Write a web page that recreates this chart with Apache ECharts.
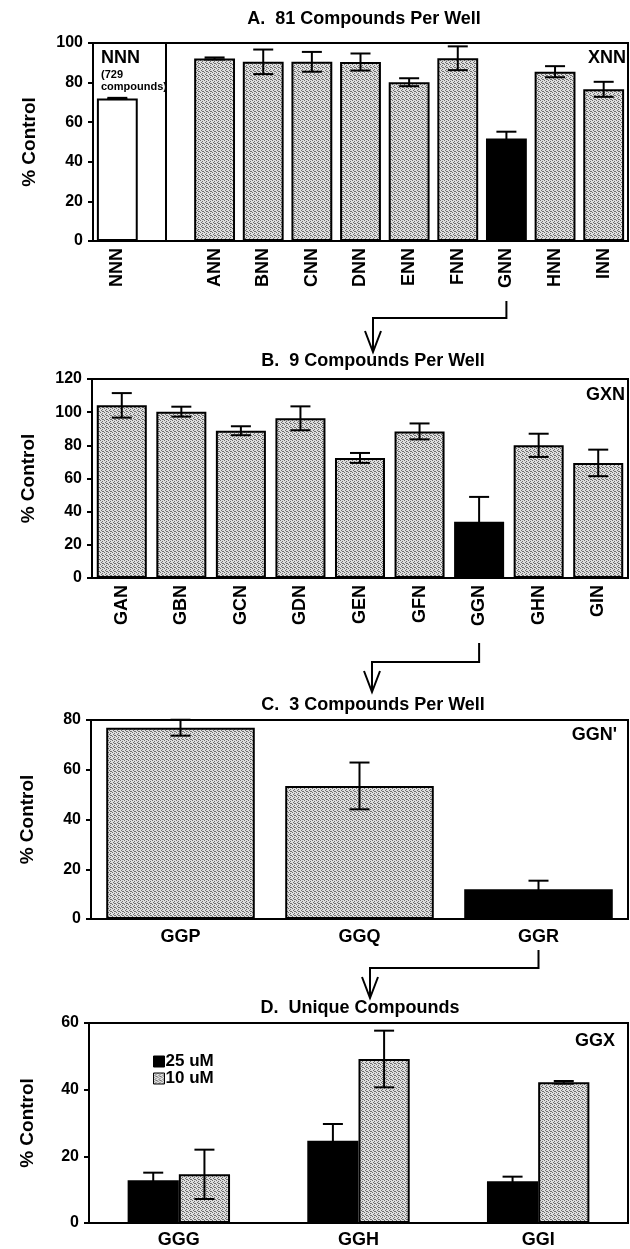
<!DOCTYPE html>
<html>
<head>
<meta charset="utf-8">
<script src="https://cdn.jsdelivr.net/npm/echarts@6/dist/echarts.min.js"></script>
<style>
  html, body { margin: 0; padding: 0; background: #fff; }
  #main { width: 630px; height: 1249px; }
</style>
</head>
<body>
<div id="main"></div>
<script>
// A. 81 compounds per well (second slot is the gap after the NNN pool)
var catA = ['NNN', '', 'ANN', 'BNN', 'CNN', 'DNN', 'ENN', 'FNN', 'GNN', 'HNN', 'INN'];
var valA = [72, null, 92.2, 90.5, 90.5, 90.4, 80.2, 92.3, 51.8, 85.5, 76.6];
var errA = [0.3, null, 0.5, 6.2, 5, 4.3, 2, 6, 3.4, 2.8, 3.8];

// B. 9 compounds per well
var catB = ['GAN', 'GBN', 'GCN', 'GDN', 'GEN', 'GFN', 'GGN', 'GHN', 'GIN'];
var valB = [104.1, 100.3, 88.8, 96.3, 72.4, 88.4, 33.9, 80, 69.4];
var errB = [7.4, 3, 2.7, 7.2, 3, 4.8, 15, 7, 8];

// C. 3 compounds per well
var catC = ['GGP', 'GGQ', 'GGR'];
var valC = [76.9, 53.5, 12];
var errC = [3.2, 9.4, 3.4];

// D. unique compounds, two doses
var catD = ['GGG', 'GGH', 'GGI'];
var val25 = [12.8, 24.7, 12.5];
var err25 = [2.3, 5, 1.4];
var val10 = [14.6, 49.2, 42.2];
var err10 = [7.4, 8.5, 0.4];

var FONT = '"Liberation Sans", Arial, sans-serif';

// stippled grey like the printed halftone
function makePattern() {
  var c = document.createElement('canvas');
  c.width = 4; c.height = 4;
  var g = c.getContext('2d');
  g.fillStyle = '#dedede';
  g.fillRect(0, 0, 4, 4);
  g.fillStyle = '#6e6e6e';
  [[0, 0], [2, 1], [1, 2], [3, 3], [2, 3]].forEach(function (p) { g.fillRect(p[0], p[1], 1, 1); });
  return c;
}
var grey = { image: makePattern(), repeat: 'repeat' };

function barData(cats, vals, white, black) {
  return vals.map(function (v, i) {
    if (v == null) return '-';
    var col = grey;
    if (cats[i] === white) col = '#fff';
    if (cats[i] === black) col = '#000';
    return { value: v, itemStyle: { color: col } };
  });
}

function errData(vals, errs) {
  var out = [];
  vals.forEach(function (v, i) {
    if (v != null) out.push([i, v, errs[i]]);
  });
  return out;
}

function errRender(shift) {
  return function (params, api) {
    var i = api.value(0), v = api.value(1), e = api.value(2);
    var band = api.size([1, 0])[0];
    var x = api.coord([i, v])[0] + shift * band;
    var top = api.coord([i, v + e])[1];
    var bot = api.coord([i, v - e])[1];
    var cap = 10;
    var st = { stroke: '#000', lineWidth: 2 };
    return {
      type: 'group',
      children: [
        { type: 'line', shape: { x1: x, y1: top, x2: x, y2: bot }, style: st },
        { type: 'line', shape: { x1: x - cap, y1: top, x2: x + cap, y2: top }, style: st },
        { type: 'line', shape: { x1: x - cap, y1: bot, x2: x + cap, y2: bot }, style: st }
      ]
    };
  };
}

var grids = [
  { left: 93, top: 43, width: 535, height: 198 },
  { left: 92, top: 379, width: 536, height: 199 },
  { left: 91, top: 720, width: 537, height: 199 },
  { left: 89, top: 1023, width: 539, height: 202 }
];
grids.forEach(function (g) {
  g.show = true;
  g.borderColor = '#000';
  g.borderWidth = 2;
  g.containLabel = false;
});

function xAx(idx, cats, rotate, margin) {
  return {
    type: 'category', gridIndex: idx, data: cats,
    axisLine: { lineStyle: { color: '#000', width: 2 } },
    axisTick: { show: false },
    axisLabel: {
      interval: 0, rotate: rotate, margin: margin, color: '#000',
      fontFamily: FONT, fontWeight: 'bold', fontSize: 18
    }
  };
}

function yAx(idx, max, gap) {
  return {
    type: 'value', gridIndex: idx, min: 0, max: max, interval: 20,
    name: '% Control', nameLocation: 'middle', nameGap: gap,
    nameTextStyle: { fontFamily: FONT, fontWeight: 'bold', fontSize: 19, color: '#000' },
    splitLine: { show: false },
    axisLine: { show: true, lineStyle: { color: '#000', width: 2 } },
    axisTick: { show: true, length: 5, lineStyle: { color: '#000', width: 2 } },
    axisLabel: { margin: 10, color: '#000', fontFamily: FONT, fontWeight: 'bold', fontSize: 16 }
  };
}

var barStyle = { borderColor: '#000', borderWidth: 2 };

var chart = echarts.init(document.getElementById('main'));

var option = {
  animation: false,
  backgroundColor: '#fff',
  title: [
    { text: 'A.  81 Compounds Per Well', left: 364, top: 10, textAlign: 'center' },
    { text: 'B.  9 Compounds Per Well', left: 373, top: 352, textAlign: 'center' },
    { text: 'C.  3 Compounds Per Well', left: 373, top: 696, textAlign: 'center' },
    { text: 'D.  Unique Compounds', left: 360, top: 999, textAlign: 'center' }
  ].map(function (t) {
    t.padding = 0;
    t.textStyle = { fontFamily: FONT, fontWeight: 'bold', fontSize: 18, color: '#000' };
    return t;
  }),
  legend: {
    data: ['25 uM', '10 uM'],
    orient: 'vertical', left: 153, top: 1053, padding: 0,
    icon: 'rect',
    itemWidth: 11, itemHeight: 11, itemGap: 0,
    itemStyle: { borderColor: '#000', borderWidth: 1 },
    textStyle: { fontFamily: FONT, fontWeight: 'bold', fontSize: 17, color: '#000', padding: [0, 0, 0, -4], lineHeight: 15 }
  },
  grid: grids,
  xAxis: [
    xAx(0, catA, 90, 7),
    xAx(1, catB, 90, 7),
    xAx(2, catC, 0, 9),
    xAx(3, catD, 0, 8)
  ],
  yAxis: [
    yAx(0, 100, 54),
    yAx(1, 120, 54),
    yAx(2, 80, 54),
    yAx(3, 60, 52)
  ],
  series: [
    {
      type: 'bar', xAxisIndex: 0, yAxisIndex: 0, barCategoryGap: '16%',
      data: barData(catA, valA, 'NNN', 'GNN'), itemStyle: barStyle,
      markLine: {
        silent: true, symbol: 'none', label: { show: false },
        lineStyle: { color: '#000', width: 2, type: 'solid' },
        data: [{ xAxis: 1 }]
      }
    },
    { type: 'custom', xAxisIndex: 0, yAxisIndex: 0, z: 10, encode: { x: 0, y: 1 },
      renderItem: errRender(0), data: errData(valA, errA) },

    { type: 'bar', xAxisIndex: 1, yAxisIndex: 1, barCategoryGap: '16%',
      data: barData(catB, valB, null, 'GGN'), itemStyle: barStyle },
    { type: 'custom', xAxisIndex: 1, yAxisIndex: 1, z: 10, encode: { x: 0, y: 1 },
      renderItem: errRender(0), data: errData(valB, errB) },

    { type: 'bar', xAxisIndex: 2, yAxisIndex: 2, barCategoryGap: '17%',
      data: barData(catC, valC, null, 'GGR'), itemStyle: barStyle },
    { type: 'custom', xAxisIndex: 2, yAxisIndex: 2, z: 10, encode: { x: 0, y: 1 },
      renderItem: errRender(0), data: errData(valC, errC) },

    { name: '25 uM', type: 'bar', xAxisIndex: 3, yAxisIndex: 3, barCategoryGap: '43%', barGap: 0,
      data: val25, itemStyle: { color: '#000', borderColor: '#000', borderWidth: 2 } },
    { name: '10 uM', type: 'bar', xAxisIndex: 3, yAxisIndex: 3, barCategoryGap: '43%', barGap: 0,
      data: val10, itemStyle: { color: grey, borderColor: '#000', borderWidth: 2 } },
    { type: 'custom', xAxisIndex: 3, yAxisIndex: 3, z: 10, encode: { x: 0, y: 1 },
      renderItem: errRender(-0.1425), data: errData(val25, err25) },
    { type: 'custom', xAxisIndex: 3, yAxisIndex: 3, z: 10, encode: { x: 0, y: 1 },
      renderItem: errRender(0.1425), data: errData(val10, err10) }
  ]
};

chart.setOption(option);

// panel tags and the flow arrows between panels
function tag(text, right, y, size) {
  return {
    type: 'text', x: right, y: y,
    style: { text: text, textAlign: 'right', textVerticalAlign: 'middle',
      font: 'bold ' + (size || 18) + 'px ' + FONT, fill: '#000' }
  };
}

function arrow(x0, y0, yMid, x1, yTip) {
  var st = { stroke: '#000', lineWidth: 2, fill: null };
  return [
    { type: 'polyline', shape: { points: [[x0, y0], [x0, yMid], [x1, yMid], [x1, yTip]] }, style: st },
    { type: 'polyline', shape: { points: [[x1 - 8, yTip - 21], [x1, yTip], [x1 + 8, yTip - 21]] }, style: st }
  ];
}

var xG = chart.convertToPixel({ xAxisIndex: 0 }, 'GNN');
var xGG = chart.convertToPixel({ xAxisIndex: 1 }, 'GGN');
var xR = chart.convertToPixel({ xAxisIndex: 2 }, 'GGR');

var graphics = [
  tag('NNN', 140, 58, 18),
  { type: 'text', x: 101, y: 75, style: { text: '(729', textVerticalAlign: 'middle', font: 'bold 11px ' + FONT, fill: '#000' } },
  { type: 'text', x: 101, y: 87, style: { text: 'compounds)', textVerticalAlign: 'middle', font: 'bold 11px ' + FONT, fill: '#000' } },
  tag('XNN', 626, 58),
  tag('GXN', 625, 395),
  tag("GGN'", 617, 735),
  tag('GGX', 615, 1041)
];
graphics[0].style.textAlign = 'left';
graphics[0].x = 101;

graphics = graphics
  .concat(arrow(xG, 301, 318, 373, 352))
  .concat(arrow(xGG, 643, 662, 372, 692))
  .concat(arrow(xR, 950, 968, 370, 998));

chart.setOption({ graphic: graphics });
</script>
</body>
</html>
